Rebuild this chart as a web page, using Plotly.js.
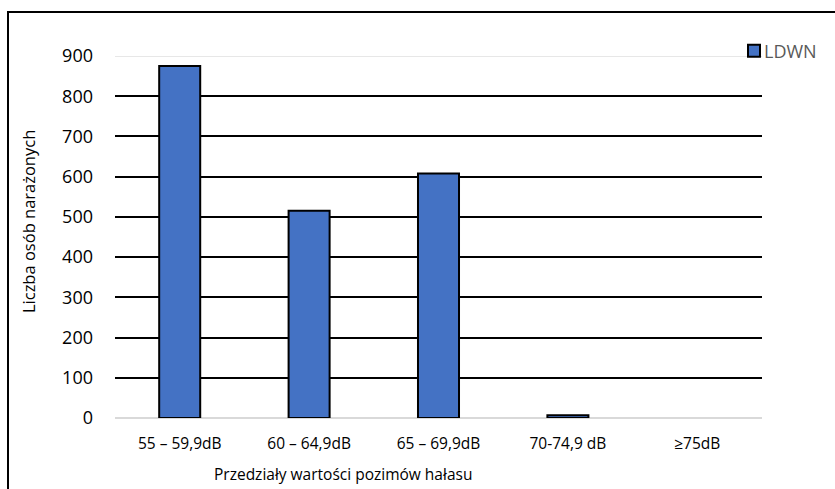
<!DOCTYPE html>
<html>
<head>
<meta charset="utf-8">
<script src="https://cdn.plot.ly/plotly-3.0.1.min.js"></script>
<style>
  html, body { margin: 0; padding: 0; background: #fff; }
  #wrap { position: relative; width: 835px; height: 489px; overflow: hidden; }
  #chart { width: 835px; height: 489px; }
  #frame { position: absolute; left: 7px; top: 11px; width: 900px; height: 600px;
           border: 2px solid #000; pointer-events: none; }
</style>
</head>
<body>
<div id="wrap">
  <div id="chart"></div>
  <div id="frame"></div>
</div>
<script>
// Noise-level bands (dB) and number of exposed people
const categories = ["55 – 59,9dB", "60 – 64,9dB", "65 – 69,9dB", "70-74,9 dB", "≥75dB"];
const ldwn = [875, 515, 608, 7, 0];
const yTicks = [0, 100, 200, 300, 400, 500, 600, 700, 800, 900];
const seriesName = "LDWN";
const yTitle = "Liczba osób narażonych";
const xTitle = "Przedziały wartości pozimów hałasu";

const FONT = "'Open Sans', 'Noto Sans', sans-serif";

const trace = {
  type: "bar",
  x: categories,
  y: ldwn,
  name: seriesName,
  marker: {
    color: "#4472C4",
    // empty (zero) bars get no outline
    line: { color: "#000", width: ldwn.map(v => (v > 0 ? 2 : 0)) }
  },
  hoverinfo: "x+y"
};

const layout = {
  width: 835,
  height: 489,
  margin: { l: 115, r: 73, t: 56, b: 71, autoexpand: false },
  paper_bgcolor: "#fff",
  plot_bgcolor: "#fff",
  font: { family: FONT, size: 15, color: "#000" },
  bargap: 0.683,
  showlegend: true,
  legend: {
    x: 0.9567, y: 1.0138, xanchor: "left", yanchor: "middle",
    font: { family: FONT, size: 18, color: "#595959" },
    bgcolor: "rgba(0,0,0,0)", itemwidth: 30
  },
  xaxis: {
    type: "category",
    showgrid: false,
    zeroline: false,
    showline: false,
    ticks: "",
    ticklabelstandoff: 14,
    tickfont: { family: FONT, size: 15.5, color: "#000" }
  },
  yaxis: {
    range: [0, 900],
    tickvals: yTicks,
    ticktext: yTicks.map(String),
    showgrid: true,
    gridcolor: "#000",
    gridwidth: 2,
    zeroline: true,
    zerolinecolor: "#d9d9d9",
    zerolinewidth: 2,
    showline: false,
    ticks: "",
    ticklabelstandoff: 21,
    tickfont: { family: FONT, size: 18, color: "#000" },
    fixedrange: true
  },
  shapes: [
    // the 900 grid line is drawn as a light grey double line
    { type: "line", xref: "paper", yref: "y", x0: 0, x1: 1, y0: 900, y1: 900,
      line: { color: "#ffffff", width: 4 }, layer: "above" },
    { type: "line", xref: "paper", yref: "y", x0: 0, x1: 1, y0: 900, y1: 900,
      line: { color: "#d0d0d0", width: 1 }, layer: "above" },
    { type: "line", xref: "paper", yref: "y", x0: 0, x1: 1, ysizemode: "pixel",
      yanchor: 900, y0: 2, y1: 2,
      line: { color: "#d0d0d0", width: 1 }, layer: "above" }
  ],
  annotations: [
    { text: yTitle, xref: "paper", yref: "paper", x: -0.1345, y: 0.544,
      textangle: -90, showarrow: false, xanchor: "center", yanchor: "middle",
      font: { family: FONT, size: 16.5, color: "#000" } },
    { text: xTitle, xref: "paper", yref: "paper", x: 0.353, y: -0.1547,
      showarrow: false, xanchor: "center", yanchor: "middle",
      font: { family: FONT, size: 15.5, color: "#000" } }
  ]
};

Plotly.newPlot("chart", [trace], layout, { displayModeBar: false, staticPlot: true })
  .then(function () {
    // tighten the gap between the legend swatch and its label
    document.querySelectorAll("#chart .legendtext").forEach(function (t) {
      t.setAttribute("x", String(parseFloat(t.getAttribute("x")) - 10));
    });
  });
</script>
</body>
</html>
